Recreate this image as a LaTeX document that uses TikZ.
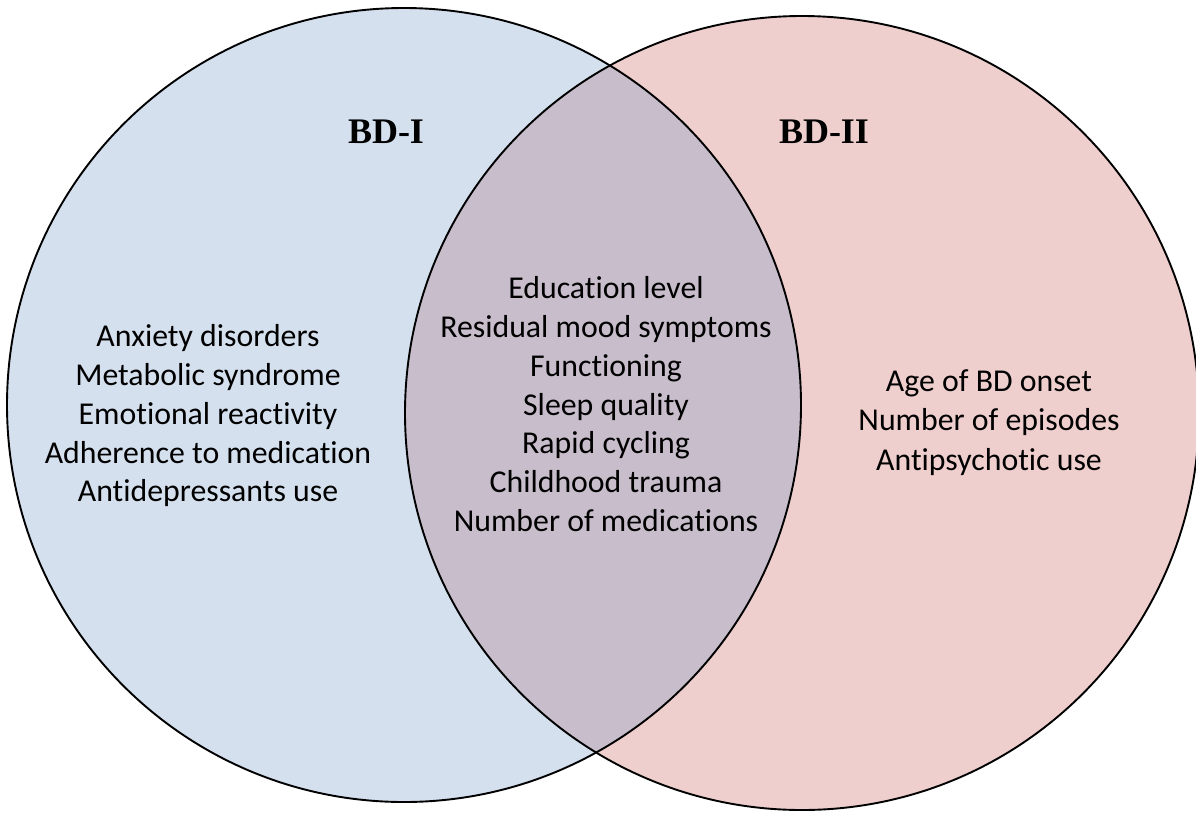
\documentclass[tikz,border=0pt]{standalone}
\usepackage{fontspec}
\setmainfont{Carlito}[Ligatures=NoCommon]
\newfontfamily\titlefont{Liberation Serif}
\definecolor{bdiblue}{HTML}{D5E0EE}
\definecolor{bdiipink}{HTML}{EFCFCE}
\definecolor{overlap}{HTML}{C8BDCB}
\tikzset{
  item/.style={anchor=base, inner sep=0pt, font=\fontsize{31.8}{38}\selectfont},
  title/.style={anchor=base, inner sep=0pt, font=\fontsize{36}{40}\selectfont\titlefont\bfseries},
  ring/.style={draw=black, line width=1.9pt}
}
\begin{document}
\begin{tikzpicture}[x=1pt,y=-1pt]
\useasboundingbox (0,0) rectangle (1196,812);
\coordinate (cL) at (404,405);
\coordinate (cR) at (802,413);
\fill[bdiblue] (cL) circle[radius=397pt];
\fill[bdiipink] (cR) circle[radius=397pt];
\begin{scope}
  \clip (cL) circle[radius=397pt];
  \fill[overlap] (cR) circle[radius=397pt];
\end{scope}
\draw[ring] (cL) circle[radius=397pt];
\draw[ring] (cR) circle[radius=397pt];

\node[title] (t1) at (386,143) {BD-I};
\node[title] (t2) at (824,143) {BD-II};

\node[item] (l1) at (208,346.7) {Anxiety disorders};
\node[item] (l2) at (208,385.5) {Metabolic syndrome};
\node[item] (l3) at (208,424.3) {Emotional reactivity};
\node[item] (l4) at (208,463.1) {Adherence to medication};
\node[item] (l5) at (208,501.9) {Antidepressants use};

\node[item] (m1) at (606,298.3) {Education level};
\node[item] (m2) at (606,337.2) {Residual mood symptoms};
\node[item] (m3) at (606,376.1) {Functioning};
\node[item] (m4) at (606,415.0) {Sleep quality};
\node[item] (m5) at (606,453.9) {Rapid cycling};
\node[item] (m6) at (606,492.8) {Childhood trauma};
\node[item] (m7) at (606,531.7) {Number of medications};

\node[item] (r1) at (989,391) {Age of BD onset};
\node[item] (r2) at (989,430) {Number of episodes};
\node[item] (r3) at (989,470) {Antipsychotic use};
\end{tikzpicture}
\end{document}
